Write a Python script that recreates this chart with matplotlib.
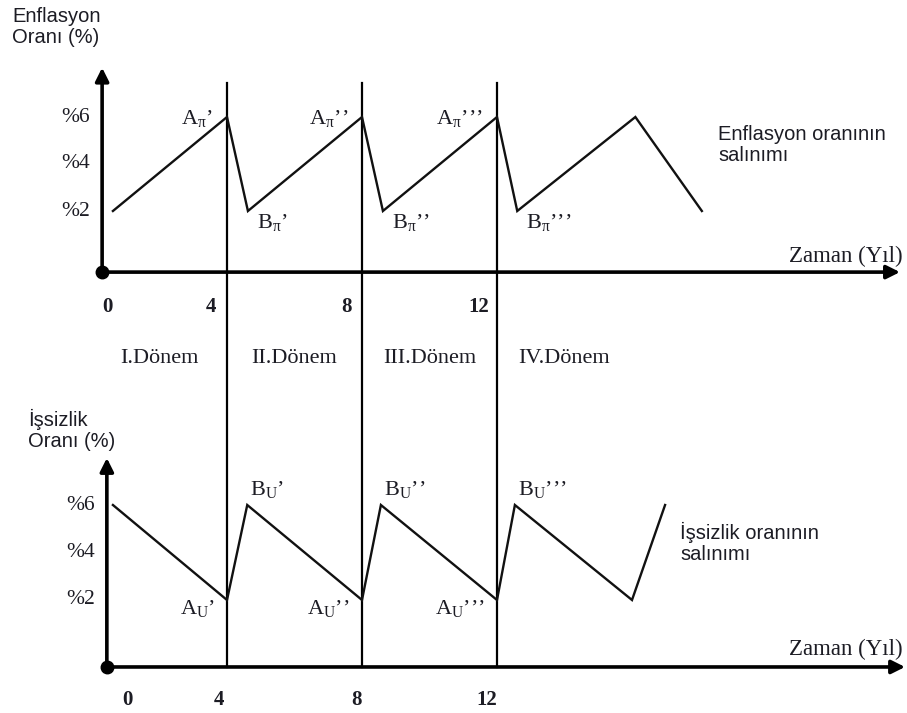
import matplotlib
matplotlib.use('Agg')
import matplotlib.pyplot as plt

#--------------------------------------------------------------------------------
# Data: years on x, rate in percent on y
infl_years = [0.62, 4.0, 4.62, 8.0, 8.62, 12.0, 12.6, 16.1, 18.07]
infl_rate = [2, 6, 2, 6, 2, 6, 2, 6, 2]
unemp_years = [0.62, 4.0, 4.6, 8.0, 8.56, 12.0, 12.53, 16.0, 16.98]
unemp_rate = [6, 2, 6, 2, 6, 2, 6, 2, 6]

period_bounds = [4, 8, 12]
period_names = ['I.Dönem', 'II.Dönem', 'III.Dönem', 'IV.Dönem']
period_centers = [2, 6, 10, 14]

ytick_vals = [2, 4, 6]
ytick_labels = ['%2', '%4', '%6']
xtick_labels = ['0', '4', '8', '12']

primes = ['\u2019', '\u2019\u2019', '\u2019\u2019\u2019']

#--------------------------------------------------------------------------------
W, H = 907, 713
SANS = 'Liberation Sans'
SERIF = 'Liberation Serif'
INK = '#1c1c24'

plt.rcParams['mathtext.fontset'] = 'custom'
plt.rcParams['mathtext.rm'] = SERIF
plt.rcParams['mathtext.it'] = SERIF + ':italic'
plt.rcParams['mathtext.bf'] = SERIF + ':bold'


def fx(px):
    return px / W


def fy(py):
    return 1 - py / H


def axis_arrow(ax, start, end):
    ax.annotate('', xy=end, xytext=start,
                arrowprops=dict(arrowstyle='-|>', lw=2.6, color='black',
                                mutation_scale=20, shrinkA=0, shrinkB=0))


def panel(ax, origin, ytop, xend):
    ox, oy = origin
    axis_arrow(ax, (ox, oy), (ox, ytop))
    axis_arrow(ax, (ox, oy), (xend, oy))
    ax.plot([ox], [oy], 'o', color='black', markersize=9, zorder=5)
    for v, lab in zip(ytick_vals, ytick_labels):
        ax.annotate(lab, xy=(ox, v), xytext=(-12, 0), textcoords='offset pixels',
                    ha='right', va='center', fontsize=15.5, family=SERIF, color=INK)


#Figure and the two panels
fig = plt.figure(figsize=(W / 100, H / 100), dpi=100)
split = 340
ax_top = fig.add_axes([0, fy(split), 1, split / H])
ax_bot = fig.add_axes([0, 0, 1, 1 - split / H])
xlim = (-92 / 33.75, (W - 92) / 33.75)
ax_top.set_xlim(*xlim)
ax_bot.set_xlim(*xlim)
ax_top.set_ylim((258 - split) / 23.5, 258 / 23.5)
ax_bot.set_ylim((647.5 - H) / 23.75, (647.5 - split) / 23.75)
for ax in (ax_top, ax_bot):
    ax.axis('off')

top_origin = (0.30, -0.6)
bot_origin = (0.44, -0.82)

#Period boundaries running through both panels
for b in period_bounds:
    ax_top.plot([b, b], [7.45, -10], color='black', lw=1.6)
    ax_bot.plot([b, b], [20, bot_origin[1]], color='black', lw=1.6)

panel(ax_top, top_origin, 8.1, 23.94)
panel(ax_bot, bot_origin, 7.98, 24.09)

#Inflation and unemployment paths
ax_top.plot(infl_years, infl_rate, color='#111111', lw=1.7, solid_joinstyle='miter')
ax_bot.plot(unemp_years, unemp_rate, color='#111111', lw=1.7, solid_joinstyle='miter')

#Peak / trough labels
for i, p in enumerate(primes):
    k_peak, k_trough = 1 + 2 * i, 2 + 2 * i
    ax_top.annotate('A$_{\\mathrm{π}}$' + p, xy=(infl_years[k_peak], infl_rate[k_peak]),
                    xytext=(-14, -7), textcoords='offset pixels', ha='right', va='baseline',
                    fontsize=16, family=SERIF, color=INK)
    ax_top.annotate('B$_{\\mathrm{π}}$' + p, xy=(infl_years[k_trough], infl_rate[k_trough]),
                    xytext=(9, -17), textcoords='offset pixels', ha='left', va='baseline',
                    fontsize=16, family=SERIF, color=INK)
    ax_bot.annotate('A$_{\\mathrm{U}}$' + p, xy=(unemp_years[k_peak], unemp_rate[k_peak]),
                    xytext=(-12, -14), textcoords='offset pixels', ha='right', va='baseline',
                    fontsize=16, family=SERIF, color=INK)
    ax_bot.annotate('B$_{\\mathrm{U}}$' + p, xy=(unemp_years[k_trough], unemp_rate[k_trough]),
                    xytext=(3, 10), textcoords='offset pixels', ha='left', va='baseline',
                    fontsize=16, family=SERIF, color=INK)

#Time tick labels
top_tick_px = [107, 211, 347, 479]
bot_tick_px = [127, 219, 356, 487]
for lab, px in zip(xtick_labels, top_tick_px):
    fig.text(fx(px), fy(312), lab, ha='center', va='baseline', fontsize=15,
             family=SERIF, weight='bold', color=INK)
for lab, px in zip(xtick_labels, bot_tick_px):
    fig.text(fx(px), fy(705), lab, ha='center', va='baseline', fontsize=15,
             family=SERIF, weight='bold', color=INK)

#Period names
for name, c in zip(period_names, period_centers):
    ax_top.text(c, 1 - 363 / split, name, ha='center', va='baseline', fontsize=16,
                family=SERIF, color=INK, transform=ax_top.get_xaxis_transform(), clip_on=False)

#Axis titles and captions
fig.text(fx(903), fy(262), 'Zaman (Y\u0131l)', ha='right', va='baseline', fontsize=16.5, family=SERIF, color=INK)
fig.text(fx(903), fy(655), 'Zaman (Y\u0131l)', ha='right', va='baseline', fontsize=16.5, family=SERIF, color=INK)
cap = dict(ha='left', va='baseline', fontsize=14.5, family=SANS, color=INK, linespacing=1.12)
fig.text(fx(12), fy(43), 'Enflasyon\nOranı (%)', **cap)
fig.text(fx(28), fy(447), 'İşsizlik\nOranı (%)', **cap)
fig.text(fx(718), fy(161), 'Enflasyon oranının\nsalınımı', **cap)
fig.text(fx(680), fy(560), 'İşsizlik oranının\nsalınımı', **cap)

fig.savefig('out.png', dpi=100)
